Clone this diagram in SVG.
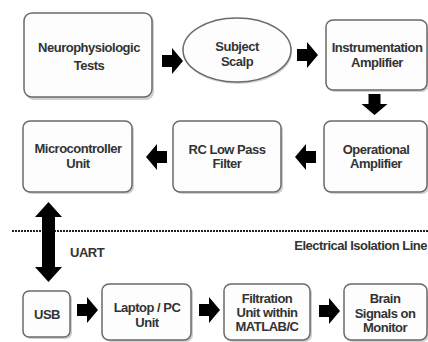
<svg xmlns="http://www.w3.org/2000/svg" width="428" height="342" viewBox="0 0 428 342">
<defs>
<style>
.box{fill:#fdfdfd;stroke:#6a6a6a;stroke-width:1.5}
.sh{fill:#8a8a8a;opacity:0.4}
.t{font-family:"Liberation Sans",Arial,sans-serif;font-size:13px;font-weight:bold;fill:#333;text-anchor:middle;letter-spacing:-0.5px}
.arr{fill:#000}
</style>
<path id="ra" d="M0,-6 H10 V-13 L21,0 L10,13 V6 H0 Z"/>
</defs>
<rect width="428" height="342" fill="#ffffff"/>

<g id="neuro">
<rect class="sh" x="26" y="15" width="128" height="85" rx="8"/>
<rect class="box" x="24" y="13" width="128" height="84" rx="8"/>
<text class="t" x="89" y="52">Neurophysiologic</text>
<text class="t" x="89" y="70">Tests</text>
</g>

<g id="scalp">
<ellipse cx="238" cy="52" rx="54" ry="32" fill="#8a8a8a" opacity="0.4"/>
<ellipse class="box" cx="237" cy="50" rx="54" ry="32"/>
<text class="t" x="237" y="51">Subject</text>
<text class="t" x="237" y="66">Scalp</text>
</g>

<g id="instr">
<rect class="sh" x="328" y="22" width="101" height="70" rx="7"/>
<rect class="box" x="326" y="20" width="101" height="70" rx="7"/>
<text class="t" x="377" y="52">Instrumentation</text>
<text class="t" x="377" y="67">Amplifier</text>
</g>

<g id="opamp">
<rect class="sh" x="326" y="123" width="103" height="71" rx="7"/>
<rect class="box" x="324" y="121" width="103" height="71" rx="7"/>
<text class="t" x="376" y="154">Operational</text>
<text class="t" x="376" y="168">Amplifier</text>
</g>

<g id="rc">
<rect class="sh" x="175" y="123" width="108" height="71" rx="7"/>
<rect class="box" x="173" y="121" width="108" height="71" rx="7"/>
<text class="t" x="227" y="154">RC Low Pass</text>
<text class="t" x="227" y="168">Filter</text>
</g>

<g id="micro">
<rect class="sh" x="25" y="123" width="109" height="71" rx="7"/>
<rect class="box" x="23" y="121" width="109" height="71" rx="7"/>
<text class="t" x="78" y="153">Microcontroller</text>
<text class="t" x="78" y="168">Unit</text>
</g>

<g id="usb">
<rect class="sh" x="25" y="293" width="47" height="46" rx="6"/>
<rect class="box" x="23" y="291" width="47" height="46" rx="6"/>
<text class="t" x="47" y="319">USB</text>
</g>

<g id="laptop">
<rect class="sh" x="104" y="286" width="89" height="56" rx="7"/>
<rect class="box" x="102" y="284" width="89" height="56" rx="7"/>
<text class="t" x="147" y="312">Laptop / PC</text>
<text class="t" x="147" y="327">Unit</text>
</g>

<g id="filtration">
<rect class="sh" x="226" y="286" width="86" height="56" rx="7"/>
<rect class="box" x="224" y="284" width="86" height="56" rx="7"/>
<text class="t" x="267" y="303">Filtration</text>
<text class="t" x="267" y="317">Unit within</text>
<text class="t" x="267" y="331">MATLAB/C</text>
</g>

<g id="brain">
<rect class="sh" x="346" y="286" width="83" height="56" rx="7"/>
<rect class="box" x="344" y="284" width="83" height="56" rx="7"/>
<text class="t" x="385" y="303">Brain</text>
<text class="t" x="385" y="318">Signals on</text>
<text class="t" x="385" y="332">Monitor</text>
</g>

<g id="isolation">
<line x1="12" y1="231" x2="428" y2="231" stroke="#222" stroke-width="2.2" stroke-dasharray="2,1"/>
<text class="t" x="427" y="250" style="text-anchor:end">Electrical Isolation Line</text>
<text class="t" x="70" y="257" style="text-anchor:start">UART</text>
</g>

<g id="connectors" class="arr">
<use href="#ra" transform="translate(162,61)"/>
<use href="#ra" transform="translate(297,55)"/>
<use href="#ra" transform="translate(374.5,94) rotate(90)"/>
<use href="#ra" transform="translate(316,157) rotate(180)"/>
<use href="#ra" transform="translate(167,157) rotate(180)"/>
<path d="M48.5,202 L62,217 H55 V267 H62 L48.5,282 L35,267 H42 V217 H35 Z"/>
<use href="#ra" transform="translate(77,310)"/>
<use href="#ra" transform="translate(199,310)"/>
<use href="#ra" transform="translate(319,311)"/>
</g>
</svg>
